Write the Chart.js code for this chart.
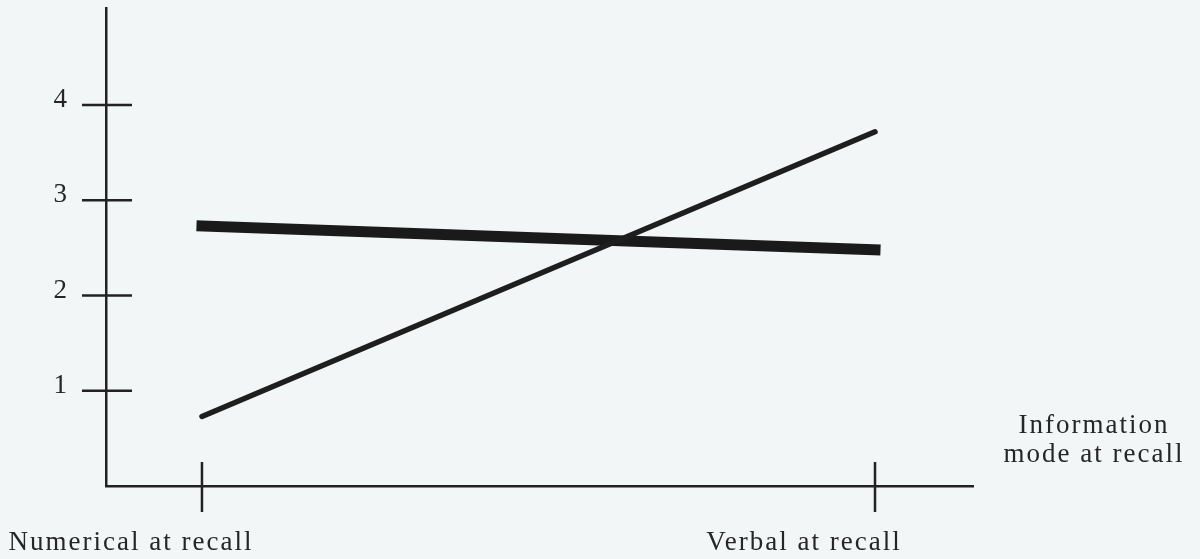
<!DOCTYPE html>
<html>
<head>
<meta charset="utf-8">
<script src="https://cdn.jsdelivr.net/npm/chart.js@4"></script>
<style>
  html, body { margin: 0; padding: 0; background: #f3f6f6; }
  #wrap { width: 1200px; height: 559px; }
</style>
</head>
<body>
<div id="wrap"><canvas id="recallChart"></canvas></div>
<script>
// Information mode at recall - two-line interaction plot

const categories = ["Numerical at recall", "Verbal at recall"];
const thinSeries = [0.73, 3.72];
const thickSeries = [2.73, 2.48];
const yTickValues = [1, 2, 3, 4];
const xAxisTitle = ["Information", "mode at recall"];

const ink = "#222222";
const labelFont = "27px 'Liberation Serif', 'DejaVu Serif', serif";

function toPoints(values) {
    return values.map(function(v, i) { return { x: i, y: v }; });
}

// Draws the cross-shaped tick marks and the text labels around the axes
const axisMarks = {
    id: "axisMarks",
    afterDraw(chart) {
        const ctx = chart.ctx;
        const xs = chart.scales.x;
        const ys = chart.scales.y;
        const axisX = chart.chartArea.left;
        const axisY = chart.chartArea.bottom;

        ctx.save();
        ctx.strokeStyle = ink;
        ctx.lineWidth = 2.5;

        yTickValues.forEach(function(v) {
            const py = ys.getPixelForValue(v);
            ctx.beginPath();
            ctx.moveTo(axisX - 24, py);
            ctx.lineTo(axisX + 26, py);
            ctx.stroke();
        });

        categories.forEach(function(c, i) {
            const px = xs.getPixelForValue(i);
            ctx.beginPath();
            ctx.moveTo(px, axisY - 24);
            ctx.lineTo(px, axisY + 26);
            ctx.stroke();
        });

        ctx.fillStyle = "#262626";
        ctx.font = labelFont;
        ctx.textBaseline = "alphabetic";

        // y tick labels
        ctx.textAlign = "right";
        yTickValues.forEach(function(v) {
            ctx.fillText(String(v), axisX - 39, ys.getPixelForValue(v) + 2);
        });

        ctx.letterSpacing = "2px";
        ctx.textAlign = "center";
        categories.forEach(function(c, i) {
            const px = xs.getPixelForValue(i);
            ctx.fillText(c, px - 71, axisY + 64);
        });

        const right = chart.chartArea.right;
        ctx.fillText(xAxisTitle[0], right + 121, axisY - 53);
        ctx.fillText(xAxisTitle[1], right + 121, axisY - 24);

        ctx.restore();
    }
};

const chart = new Chart(document.getElementById("recallChart"), {
    type: "line",
    data: {
        datasets: [
            {
                label: "thin",
                data: toPoints(thinSeries),
                borderColor: "#1e1e1e",
                borderWidth: 5.5,
                borderCapStyle: "round",
                pointRadius: 0,
                fill: false
            },
            {
                label: "thick",
                data: toPoints(thickSeries),
                borderColor: "#1a1a1a",
                borderWidth: 11,
                borderCapStyle: "square",
                pointRadius: 0,
                fill: false
            }
        ]
    },
    options: {
        responsive: true,
        maintainAspectRatio: false,
        animation: false,
        layout: { autoPadding: false, padding: { left: 0, right: 227, top: 8, bottom: 0 } },
        plugins: {
            legend: { display: false },
            tooltip: { enabled: false }
        },
        scales: {
            x: {
                type: "linear",
                min: -0.1426,
                max: 1.1456,
                grid: { display: false, drawTicks: false },
                border: { display: true, color: ink, width: 2.5 },
                ticks: { display: false },
                afterFit: function(scale) { scale.height = 73; }
            },
            y: {
                min: 0,
                max: 5.02,
                grid: { display: false, drawTicks: false },
                border: { display: true, color: ink, width: 2.5 },
                afterBuildTicks: function(scale) {
                    scale.ticks = yTickValues.map(function(v) { return { value: v }; });
                },
                ticks: { display: false },
                afterFit: function(scale) { scale.width = 106; }
            }
        }
    },
    plugins: [axisMarks]
});
</script>
</body>
</html>
